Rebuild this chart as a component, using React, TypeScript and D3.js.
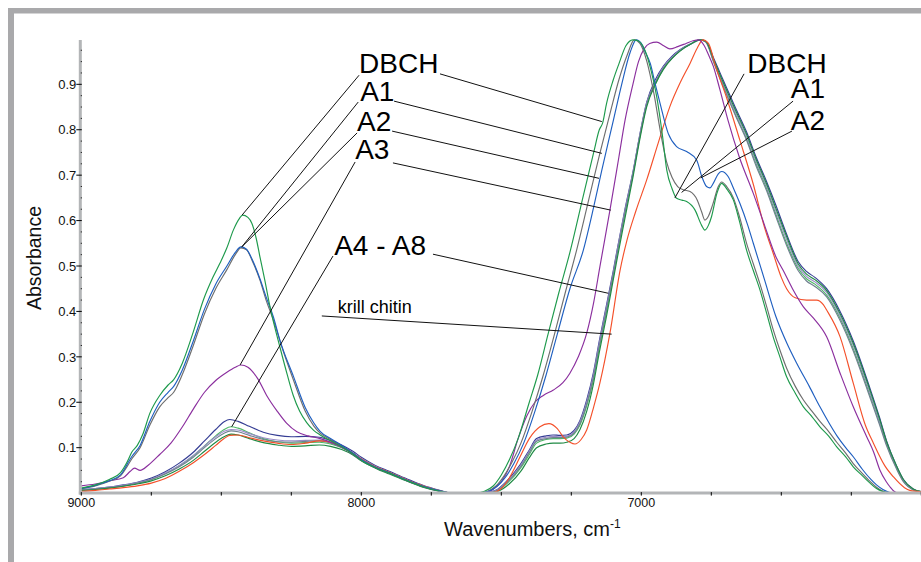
import React from 'react';
import * as d3 from 'd3';

type P = [number, number];

// wavenumber (cm-1), absorbance
const DBCH: P[] = [[9000,0.011],[8950,0.018],[8900,0.03],[8860,0.045],[8835,0.07],[8820,0.09],[8800,0.105],[8780,0.13],[8755,0.176],[8720,0.215],[8690,0.238],[8670,0.25],[8640,0.285],[8600,0.355],[8564,0.425],[8530,0.475],[8505,0.506],[8480,0.54],[8457,0.579],[8435,0.605],[8424,0.612],[8405,0.607],[8391,0.594],[8375,0.56],[8362,0.52],[8345,0.47],[8326,0.41],[8290,0.32],[8265,0.262],[8243,0.215],[8220,0.18],[8195,0.155],[8170,0.138],[8147,0.128],[8110,0.115],[8070,0.102],[8030,0.086],[8000,0.072],[7950,0.056],[7900,0.044],[7840,0.028],[7780,0.014],[7720,0.004],[7680,0],[7590,0],[7560,0.004],[7530,0.015],[7500,0.04],[7470,0.075],[7440,0.12],[7400,0.2],[7370,0.26],[7333,0.35],[7295,0.44],[7255,0.53],[7207,0.655],[7170,0.75],[7150,0.8],[7138,0.815],[7124,0.858],[7100,0.91],[7080,0.945],[7055,0.985],[7030,0.998],[7012,0.996],[6987,0.975],[6965,0.93],[6945,0.873],[6925,0.79],[6909,0.711],[6890,0.67],[6874,0.649],[6855,0.645],[6838,0.642],[6808,0.623],[6785,0.59],[6773,0.579],[6760,0.59],[6749,0.609],[6730,0.66],[6713,0.682],[6695,0.67],[6671,0.645],[6650,0.6],[6624,0.535],[6600,0.49],[6576,0.447],[6552,0.395],[6529,0.344],[6505,0.3],[6481,0.256],[6450,0.22],[6421,0.19],[6390,0.168],[6362,0.146],[6330,0.125],[6302,0.102],[6270,0.08],[6243,0.058],[6210,0.038],[6183,0.022],[6160,0.01],[6140,0.004],[6110,0],[6000,0]];

const A1: P[] = [[9000,0.01],[8950,0.016],[8900,0.026],[8860,0.038],[8835,0.06],[8820,0.075],[8790,0.1],[8755,0.15],[8720,0.19],[8690,0.21],[8670,0.222],[8640,0.26],[8600,0.325],[8560,0.395],[8520,0.45],[8480,0.492],[8450,0.525],[8430,0.54],[8410,0.536],[8390,0.512],[8362,0.469],[8340,0.425],[8314,0.381],[8280,0.315],[8243,0.25],[8200,0.18],[8170,0.148],[8147,0.132],[8110,0.118],[8070,0.104],[8030,0.087],[8000,0.073],[7950,0.057],[7900,0.045],[7840,0.029],[7780,0.015],[7720,0.005],[7680,0],[7585,0],[7550,0.004],[7520,0.015],[7490,0.038],[7460,0.07],[7430,0.11],[7390,0.18],[7350,0.26],[7310,0.35],[7270,0.445],[7231,0.535],[7190,0.64],[7148,0.748],[7110,0.84],[7080,0.91],[7050,0.965],[7025,0.998],[7005,0.99],[6980,0.95],[6955,0.88],[6930,0.79],[6910,0.73],[6890,0.695],[6870,0.675],[6850,0.668],[6826,0.664],[6800,0.645],[6785,0.62],[6773,0.601],[6760,0.61],[6745,0.635],[6725,0.675],[6713,0.685],[6695,0.675],[6671,0.65],[6650,0.61],[6624,0.55],[6600,0.505],[6576,0.46],[6552,0.41],[6529,0.36],[6505,0.315],[6481,0.275],[6450,0.235],[6421,0.205],[6390,0.18],[6362,0.158],[6330,0.135],[6302,0.112],[6270,0.088],[6243,0.065],[6210,0.043],[6183,0.026],[6160,0.013],[6140,0.005],[6110,0],[6000,0]];

const A2: P[] = [[9000,0.01],[8950,0.017],[8900,0.027],[8860,0.04],[8835,0.065],[8820,0.08],[8790,0.105],[8755,0.158],[8720,0.2],[8690,0.222],[8670,0.235],[8640,0.27],[8600,0.335],[8560,0.405],[8520,0.46],[8480,0.5],[8450,0.53],[8430,0.542],[8410,0.537],[8390,0.515],[8362,0.472],[8340,0.432],[8314,0.388],[8290,0.335],[8243,0.258],[8200,0.188],[8170,0.155],[8147,0.136],[8110,0.12],[8070,0.105],[8030,0.088],[8000,0.074],[7950,0.057],[7900,0.045],[7840,0.029],[7780,0.015],[7720,0.005],[7680,0],[7580,0],[7545,0.004],[7515,0.015],[7485,0.035],[7455,0.065],[7420,0.11],[7380,0.18],[7340,0.26],[7300,0.35],[7255,0.45],[7207,0.535],[7170,0.63],[7141,0.711],[7100,0.82],[7070,0.9],[7040,0.97],[7018,0.998],[7000,0.99],[6985,0.97],[6968,0.946],[6950,0.9],[6933,0.858],[6904,0.792],[6874,0.763],[6838,0.752],[6802,0.733],[6784,0.697],[6767,0.675],[6755,0.672],[6743,0.682],[6725,0.703],[6713,0.708],[6690,0.697],[6670,0.67],[6648,0.638],[6620,0.59],[6600,0.55],[6560,0.47],[6520,0.39],[6480,0.33],[6445,0.286],[6400,0.235],[6362,0.19],[6330,0.155],[6300,0.125],[6270,0.1],[6243,0.08],[6210,0.052],[6180,0.03],[6160,0.018],[6137,0.008],[6115,0.002],[6095,0],[6000,0]];

const A3: P[] = [[9000,0.016],[8950,0.02],[8900,0.027],[8850,0.034],[8825,0.048],[8810,0.055],[8790,0.05],[8760,0.062],[8720,0.085],[8680,0.11],[8640,0.145],[8600,0.185],[8560,0.222],[8520,0.248],[8480,0.266],[8450,0.277],[8430,0.282],[8405,0.277],[8370,0.252],[8338,0.215],[8300,0.18],[8267,0.154],[8230,0.135],[8190,0.126],[8147,0.12],[8100,0.11],[8050,0.094],[8000,0.072],[7950,0.056],[7900,0.044],[7840,0.028],[7780,0.014],[7720,0.004],[7680,0],[7565,0],[7530,0.008],[7500,0.025],[7470,0.06],[7440,0.12],[7409,0.17],[7380,0.2],[7350,0.215],[7314,0.227],[7280,0.243],[7255,0.264],[7225,0.3],[7195,0.352],[7170,0.42],[7148,0.498],[7112,0.623],[7080,0.74],[7058,0.821],[7030,0.9],[7010,0.95],[6990,0.978],[6970,0.99],[6945,0.993],[6920,0.985],[6898,0.978],[6870,0.983],[6840,0.99],[6815,0.996],[6795,0.998],[6775,0.985],[6760,0.965],[6743,0.94],[6720,0.89],[6690,0.82],[6650,0.74],[6600,0.66],[6560,0.59],[6519,0.52],[6493,0.49],[6460,0.45],[6421,0.41],[6385,0.385],[6338,0.344],[6290,0.264],[6243,0.19],[6195,0.124],[6170,0.09],[6148,0.051],[6125,0.025],[6112,0.014],[6095,0.003],[6080,0],[6000,0]];

const KRILL: P[] = [[9000,0.004],[8950,0.006],[8900,0.009],[8850,0.012],[8800,0.016],[8750,0.022],[8700,0.032],[8650,0.048],[8600,0.067],[8560,0.085],[8520,0.105],[8490,0.12],[8470,0.127],[8440,0.128],[8400,0.122],[8350,0.115],[8300,0.11],[8250,0.107],[8200,0.11],[8150,0.115],[8110,0.112],[8070,0.103],[8030,0.088],[8000,0.075],[7950,0.058],[7900,0.046],[7840,0.03],[7780,0.016],[7720,0.005],[7680,0],[7540,0],[7500,0.01],[7470,0.035],[7433,0.08],[7400,0.12],[7362,0.146],[7330,0.153],[7300,0.142],[7279,0.124],[7255,0.112],[7237,0.108],[7215,0.118],[7195,0.139],[7170,0.19],[7148,0.242],[7112,0.352],[7076,0.49],[7052,0.555],[7020,0.62],[6981,0.689],[6940,0.77],[6898,0.851],[6860,0.905],[6826,0.946],[6800,0.98],[6780,0.998],[6760,0.99],[6735,0.94],[6695,0.87],[6648,0.777],[6600,0.68],[6560,0.585],[6529,0.528],[6500,0.475],[6481,0.45],[6450,0.43],[6410,0.425],[6374,0.425],[6350,0.415],[6338,0.403],[6290,0.344],[6243,0.242],[6200,0.15],[6171,0.11],[6130,0.06],[6100,0.036],[6060,0.012],[6041,0.006],[6000,0.003]];

const A4: P[] = [[9000,0.008],[8950,0.01],[8900,0.013],[8850,0.018],[8800,0.024],[8750,0.033],[8700,0.047],[8650,0.066],[8600,0.09],[8560,0.115],[8520,0.14],[8490,0.157],[8470,0.162],[8440,0.158],[8400,0.147],[8350,0.134],[8300,0.127],[8250,0.124],[8200,0.125],[8150,0.123],[8110,0.116],[8070,0.106],[8030,0.092],[8000,0.079],[7950,0.061],[7900,0.048],[7840,0.032],[7780,0.017],[7720,0.006],[7680,0],[7560,0],[7520,0.006],[7480,0.027],[7433,0.062],[7400,0.095],[7374,0.12],[7340,0.126],[7315,0.128],[7290,0.127],[7266,0.128],[7240,0.138],[7219,0.16],[7195,0.205],[7171,0.265],[7150,0.335],[7124,0.415],[7100,0.49],[7085,0.54],[7060,0.62],[7029,0.71],[7005,0.79],[6981,0.86],[6950,0.91],[6921,0.94],[6890,0.962],[6862,0.976],[6820,0.99],[6790,0.998],[6770,0.995],[6740,0.955],[6708,0.91],[6665,0.85],[6624,0.795],[6590,0.74],[6552,0.685],[6520,0.635],[6481,0.57],[6440,0.51],[6410,0.488],[6380,0.475],[6338,0.45],[6290,0.4],[6243,0.335],[6183,0.23],[6150,0.168],[6124,0.115],[6090,0.062],[6064,0.03],[6029,0.009],[6000,0.003]];

const A5: P[] = [[9000,0.007],[8950,0.009],[8900,0.012],[8850,0.016],[8800,0.022],[8750,0.03],[8700,0.043],[8650,0.06],[8600,0.082],[8560,0.104],[8520,0.126],[8490,0.14],[8465,0.146],[8440,0.143],[8400,0.133],[8350,0.12],[8300,0.113],[8250,0.11],[8200,0.111],[8150,0.112],[8110,0.108],[8070,0.1],[8030,0.087],[8000,0.074],[7950,0.057],[7900,0.045],[7840,0.029],[7780,0.015],[7720,0.005],[7680,0],[7555,0],[7515,0.005],[7475,0.024],[7430,0.056],[7400,0.085],[7374,0.11],[7340,0.118],[7315,0.12],[7290,0.12],[7266,0.121],[7240,0.13],[7219,0.15],[7195,0.192],[7171,0.25],[7150,0.32],[7124,0.4],[7100,0.478],[7085,0.53],[7060,0.61],[7029,0.705],[7005,0.785],[6981,0.855],[6950,0.9],[6921,0.935],[6890,0.958],[6862,0.974],[6820,0.99],[6790,0.998],[6770,0.994],[6740,0.948],[6708,0.898],[6665,0.835],[6624,0.78],[6590,0.725],[6552,0.67],[6520,0.615],[6481,0.55],[6440,0.495],[6410,0.472],[6380,0.46],[6338,0.436],[6290,0.385],[6243,0.318],[6183,0.215],[6150,0.157],[6124,0.108],[6090,0.058],[6064,0.027],[6029,0.008],[6000,0.003]];

const A6: P[] = [[9000,0.008],[8950,0.01],[8900,0.013],[8850,0.017],[8800,0.023],[8750,0.031],[8700,0.044],[8650,0.061],[8600,0.083],[8560,0.104],[8520,0.124],[8490,0.136],[8465,0.14],[8440,0.139],[8400,0.131],[8350,0.122],[8300,0.117],[8250,0.115],[8200,0.116],[8150,0.117],[8110,0.112],[8070,0.103],[8030,0.089],[8000,0.076],[7950,0.059],[7900,0.046],[7840,0.03],[7780,0.016],[7720,0.005],[7680,0],[7558,0],[7518,0.006],[7478,0.026],[7432,0.06],[7400,0.092],[7374,0.117],[7340,0.123],[7315,0.125],[7290,0.124],[7266,0.125],[7240,0.135],[7219,0.157],[7195,0.2],[7171,0.26],[7150,0.33],[7124,0.41],[7100,0.485],[7085,0.537],[7060,0.617],[7029,0.708],[7005,0.79],[6981,0.858],[6950,0.905],[6921,0.938],[6890,0.96],[6862,0.975],[6820,0.99],[6790,0.998],[6770,0.994],[6740,0.95],[6708,0.9],[6665,0.84],[6624,0.785],[6590,0.73],[6552,0.675],[6520,0.622],[6481,0.558],[6440,0.5],[6410,0.477],[6380,0.465],[6338,0.442],[6290,0.39],[6243,0.325],[6183,0.22],[6150,0.16],[6124,0.11],[6090,0.06],[6064,0.028],[6029,0.008],[6000,0.003]];

const A7: P[] = [[9000,0.007],[8950,0.009],[8900,0.012],[8850,0.016],[8800,0.022],[8750,0.03],[8700,0.042],[8650,0.058],[8600,0.079],[8560,0.1],[8520,0.12],[8490,0.132],[8465,0.137],[8440,0.135],[8400,0.127],[8350,0.118],[8300,0.113],[8250,0.112],[8200,0.114],[8150,0.115],[8110,0.11],[8070,0.101],[8030,0.088],[8000,0.075],[7950,0.058],[7900,0.045],[7840,0.029],[7780,0.015],[7720,0.005],[7680,0],[7557,0],[7517,0.005],[7477,0.025],[7431,0.058],[7400,0.089],[7374,0.114],[7340,0.12],[7315,0.122],[7290,0.122],[7266,0.123],[7240,0.132],[7219,0.153],[7195,0.196],[7171,0.255],[7150,0.325],[7124,0.405],[7100,0.482],[7085,0.533],[7060,0.613],[7029,0.705],[7005,0.787],[6981,0.856],[6950,0.903],[6921,0.936],[6890,0.958],[6862,0.974],[6820,0.99],[6790,0.998],[6770,0.993],[6740,0.946],[6708,0.896],[6665,0.833],[6624,0.777],[6590,0.72],[6552,0.665],[6520,0.61],[6481,0.545],[6440,0.49],[6410,0.467],[6380,0.455],[6338,0.432],[6290,0.38],[6243,0.313],[6183,0.21],[6150,0.152],[6124,0.104],[6090,0.055],[6064,0.025],[6029,0.007],[6000,0.002]];

const A8: P[] = [[9000,0.006],[8950,0.008],[8900,0.011],[8850,0.015],[8800,0.02],[8750,0.027],[8700,0.038],[8650,0.053],[8600,0.072],[8560,0.092],[8520,0.112],[8490,0.124],[8465,0.13],[8440,0.128],[8400,0.12],[8350,0.111],[8300,0.106],[8250,0.103],[8200,0.104],[8150,0.106],[8110,0.103],[8070,0.096],[8030,0.084],[8000,0.071],[7950,0.055],[7900,0.042],[7840,0.027],[7780,0.013],[7720,0.004],[7680,0],[7552,0],[7512,0.004],[7472,0.02],[7428,0.05],[7400,0.078],[7374,0.1],[7340,0.108],[7315,0.11],[7290,0.11],[7266,0.112],[7240,0.12],[7219,0.14],[7195,0.18],[7171,0.24],[7150,0.31],[7124,0.39],[7100,0.47],[7085,0.52],[7060,0.6],[7029,0.698],[7005,0.78],[6981,0.85],[6950,0.9],[6921,0.933],[6890,0.957],[6862,0.973],[6820,0.99],[6790,0.998],[6770,0.995],[6740,0.952],[6708,0.905],[6665,0.845],[6624,0.79],[6590,0.735],[6552,0.68],[6520,0.628],[6481,0.565],[6440,0.505],[6410,0.482],[6380,0.47],[6338,0.446],[6290,0.395],[6243,0.33],[6183,0.226],[6150,0.165],[6124,0.113],[6090,0.062],[6064,0.03],[6029,0.009],[6000,0.003]];

const SERIES_NAMES = ['A4', 'A5', 'A6', 'A7', 'A8', 'krill chitin', 'A3', 'A1', 'A2', 'DBCH'];
const SERIES_DATA: P[][] = [A4, A5, A6, A7, A8, KRILL, A3, A1, A2, DBCH];
const SERIES_COLORS = ['#353d94', '#4fb866', '#9a8cc8', '#6f8090', '#1f8a44', '#f4502a', '#8b2f9e', '#6e6e6e', '#1f5fc0', '#1e9a4c'];

const X_LABELS = [9000, 8000, 7000];
const Y_LABELS = [0.1, 0.2, 0.3, 0.4, 0.5, 0.6, 0.7, 0.8, 0.9];

// annotations: text position (wn, abs) and leader lines [wn1, a1, wn2, a2]
type Ann = { text: string; at: P; anchor: 'start' | 'end'; size: number; lines: number[][] };
const ANNOTATIONS: Ann[] = [
  { text: 'DBCH', at: [8008, 0.924], anchor: 'start', size: 28, lines: [[8008, 0.92, 8426, 0.612], [7719, 0.923, 7141, 0.818]] },
  { text: 'A1', at: [8004, 0.863], anchor: 'start', size: 28, lines: [[8011, 0.861, 8427, 0.542], [7883, 0.863, 7141, 0.748]] },
  { text: 'A2', at: [8015, 0.797], anchor: 'start', size: 28, lines: [[8015, 0.793, 8427, 0.542], [7890, 0.797, 7151, 0.693]] },
  { text: 'A3', at: [8022, 0.735], anchor: 'start', size: 28, lines: [[8022, 0.729, 8433, 0.282], [7887, 0.727, 7109, 0.623]] },
  { text: 'A4 - A8', at: [8097, 0.524], anchor: 'start', size: 28, lines: [[8101, 0.522, 8463, 0.146], [7744, 0.526, 7118, 0.44]] },
  { text: 'krill chitin', at: [8084, 0.396], anchor: 'start', size: 18, lines: [[8141, 0.39, 7106, 0.35]] },
  { text: 'DBCH', at: [6338, 0.926], anchor: 'end', size: 28, lines: [[6633, 0.923, 6880, 0.65]] },
  { text: 'A1', at: [6344, 0.869], anchor: 'end', size: 28, lines: [[6458, 0.863, 6856, 0.662]] },
  { text: 'A2', at: [6344, 0.799], anchor: 'end', size: 28, lines: [[6462, 0.797, 6788, 0.694]] },
];

const FONT = '"Liberation Sans", Arial, Helvetica, sans-serif';

export default function App() {
  const W = 921, H = 562;
  const x = d3.scaleLinear().domain([9000, 6000]).range([81.3, 921.3]);
  const y = d3.scaleLinear().domain([0, 1]).range([493.1, 38.9]);
  const line = d3.line<P>().x(d => x(d[0])).y(d => y(d[1])).curve(d3.curveMonotoneX);
  const xTicks = d3.range(9000, 5999, -250);
  const yTicks = d3.range(1, 40).map(i => i * 0.025);
  const axisY = y(0);
  const axisX = x(9000);

  return (
    <svg width={W} height={H} style={{ position: 'absolute', left: 0, top: 0, background: '#fff' }} fontFamily={FONT}>
      <rect x={0} y={0} width={W} height={H} fill="#fff" />
      {/* frame */}
      <rect x={8} y={8} width={W - 8} height={5.5} fill="#a9a9ab" />
      <rect x={8} y={8} width={6} height={H - 8} fill="#a9a9ab" />

      {/* curves */}
      <g fill="none" strokeWidth={1.15} strokeLinejoin="round">
        {SERIES_DATA.map((d, i) => (
          <path key={SERIES_NAMES[i]} d={line(d) || ''} stroke={SERIES_COLORS[i]} />
        ))}
      </g>

      {/* axes */}
      <line x1={axisX - 1} x2={axisX - 1} y1={40} y2={axisY + 1.5} stroke="#b3b5b7" strokeWidth={3} />
      <line x1={axisX - 2.5} x2={W} y1={axisY} y2={axisY} stroke="#b3b5b7" strokeWidth={3} />
      {yTicks.map(t => {
        const major = Math.abs(t * 10 - Math.round(t * 10)) < 1e-6;
        return (
          <line key={'yt' + t} x1={major ? axisX - 5 : axisX - 0.5} x2={axisX + 0.5} y1={y(t)} y2={y(t)} stroke="#000" strokeWidth={1} />
        );
      })}
      {xTicks.map(t => (
        <line key={'xt' + t} x1={x(t)} x2={x(t)} y1={axisY - 1} y2={axisY + 2.5} stroke="#000" strokeWidth={1} />
      ))}
      {Y_LABELS.map(t => (
        <text key={'yl' + t} x={axisX - 5} y={y(t)} dy="0.36em" textAnchor="end" fontSize={13} fill="#111">{t.toFixed(1)}</text>
      ))}
      {X_LABELS.map(t => (
        <text key={'xl' + t} x={x(t)} y={507} textAnchor="middle" fontSize={12.5} fill="#111">{t}</text>
      ))}

      {/* axis titles */}
      <text x={444} y={536} fontSize={20} fill="#111">
        Wavenumbers, cm<tspan dy={-8} fontSize={12}>-1</tspan>
      </text>
      <text transform="translate(41,258) rotate(-90)" textAnchor="middle" fontSize={19.5} fill="#111">Absorbance</text>

      {/* annotations */}
      <g stroke="#111" strokeWidth={1}>
        {ANNOTATIONS.flatMap((a, i) => a.lines.map((l, j) => (
          <line key={'al' + i + '_' + j} x1={x(l[0])} y1={y(l[1])} x2={x(l[2])} y2={y(l[3])} />
        )))}
      </g>
      {ANNOTATIONS.map((a, i) => (
        <text key={'at' + i} x={x(a.at[0])} y={y(a.at[1])} textAnchor={a.anchor} fontSize={a.size} fill="#000">{a.text}</text>
      ))}
    </svg>
  );
}
